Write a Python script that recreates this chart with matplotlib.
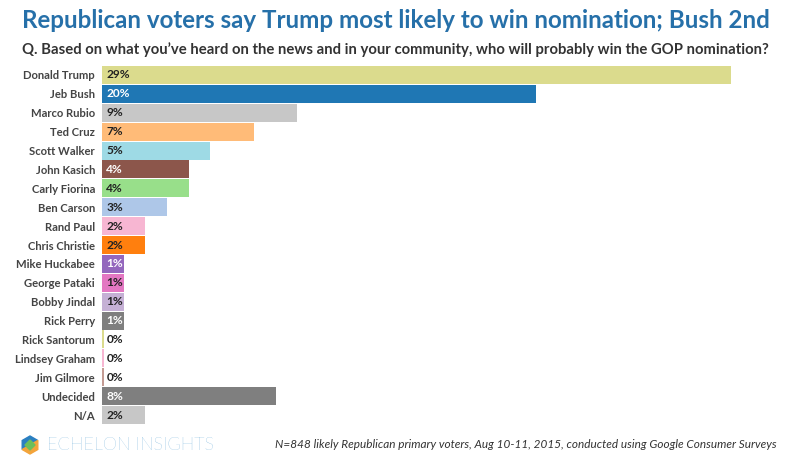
import matplotlib.pyplot as plt
import numpy as np
from matplotlib.patches import Polygon

# 数据
candidates = ["Donald Trump", "Jeb Bush", "Marco Rubio", "Ted Cruz", "Scott Walker",
              "John Kasich", "Carly Fiorina", "Ben Carson", "Rand Paul", "Chris Christie",
              "Mike Huckabee", "George Pataki", "Bobby Jindal", "Rick Perry", "Rick Santorum",
              "Lindsey Graham", "Jim Gilmore", "Undecided", "N/A"]
values = [29, 20, 9, 7, 5, 4, 4, 3, 2, 2, 1, 1, 1, 1, 0.1, 0.1, 0.1, 8, 2]
labels = ["29%", "20%", "9%", "7%", "5%", "4%", "4%", "3%", "2%", "2%",
          "1%", "1%", "1%", "1%", "0%", "0%", "0%", "8%", "2%"]
colors = ["#dbdb8d", "#1f77b4", "#c7c7c7", "#ffbb78", "#9edae5", "#8c564b", "#98df8a",
          "#aec7e8", "#f7b6d2", "#ff7f0e", "#9467bd", "#e377c2", "#c5b0d5", "#7f7f7f",
          "#dbdb8d", "#f7b6d2", "#c49c94", "#7f7f7f", "#c7c7c7"]
white_text = {"Jeb Bush", "John Kasich", "Mike Huckabee", "Rick Perry", "Undecided"}

plt.rcParams['font.family'] = ['Lato', 'DejaVu Sans']

fig = plt.figure(figsize=(8, 4.63), dpi=100)
ax = fig.add_axes([102 / 800, 1 - 424.5 / 463, 629 / 800, 359 / 463])

y = np.arange(len(candidates))
ax.barh(y, values, height=0.95, color=colors)
ax.set_xlim(0, 29)
ax.set_ylim(len(candidates) - 0.5, -0.5)

for i, (name, v, lab) in enumerate(zip(candidates, values, labels)):
    c = "white" if name in white_text else "#222222"
    ax.text(0.2, i, lab, va="center", ha="left", fontsize=8.6, fontweight="bold", color=c)

ax.set_yticks(y)
ax.set_yticklabels(candidates, fontsize=8.1, fontweight="bold", color="#444444")
ax.tick_params(axis="y", length=0, pad=5)
ax.set_xticks([])
for s in ax.spines.values():
    s.set_visible(False)

# 标题
fig.text(22 / 800, 1 - 20 / 463, "Republican voters say Trump most likely to win nomination; Bush 2nd",
         fontsize=17.4, fontweight="bold", color="#2670a9", va="center", ha="left")
fig.text(22 / 800, 1 - 50 / 463,
         "Q. Based on what you\u2019ve heard on the news and in your community, who will probably win the GOP nomination?",
         fontsize=10.7, fontweight="bold", color="#333333", va="center", ha="left")

# 脚注
fig.text(777 / 800, 1 - 445 / 463,
         "N=848 likely Republican primary voters, Aug 10-11, 2015, conducted using Google Consumer Surveys",
         fontsize=8.5, style="italic", color="#333333", va="center", ha="right")

# logo
fig.text(47 / 800, 1 - 445 / 463, "ECHELON INSIGHTS", fontsize=13, fontweight="light",
         color="#4a9ad0", va="center", ha="left")
cx, cy, r = 30, 445, 9
hx = [cx + r * np.cos(np.pi / 6 + k * np.pi / 3) for k in range(6)]
hy = [cy - r * np.sin(np.pi / 6 + k * np.pi / 3) for k in range(6)]
def fp(px, py):
    return [(a / 800, 1 - b / 463) for a, b in zip(px, py)]
# 上半部分蓝色，下半部分橙色，中间绿色
fig.patches.append(Polygon(fp([hx[0], hx[1], hx[2], hx[3]], [hy[0], hy[1], hy[2], hy[3]]),
                           closed=True, transform=fig.transFigure, color="#2a7fc1"))
fig.patches.append(Polygon(fp([hx[3], hx[4], hx[5], hx[0]], [hy[3], hy[4], hy[5], hy[0]]),
                           closed=True, transform=fig.transFigure, color="#f3a43b"))
fig.patches.append(Polygon(fp([cx - 5, cx, cx + 5, cx], [cy, cy - 5, cy, cy + 5]),
                           closed=True, transform=fig.transFigure, color="#6cbf5a"))

fig.savefig("out.png", dpi=100)
